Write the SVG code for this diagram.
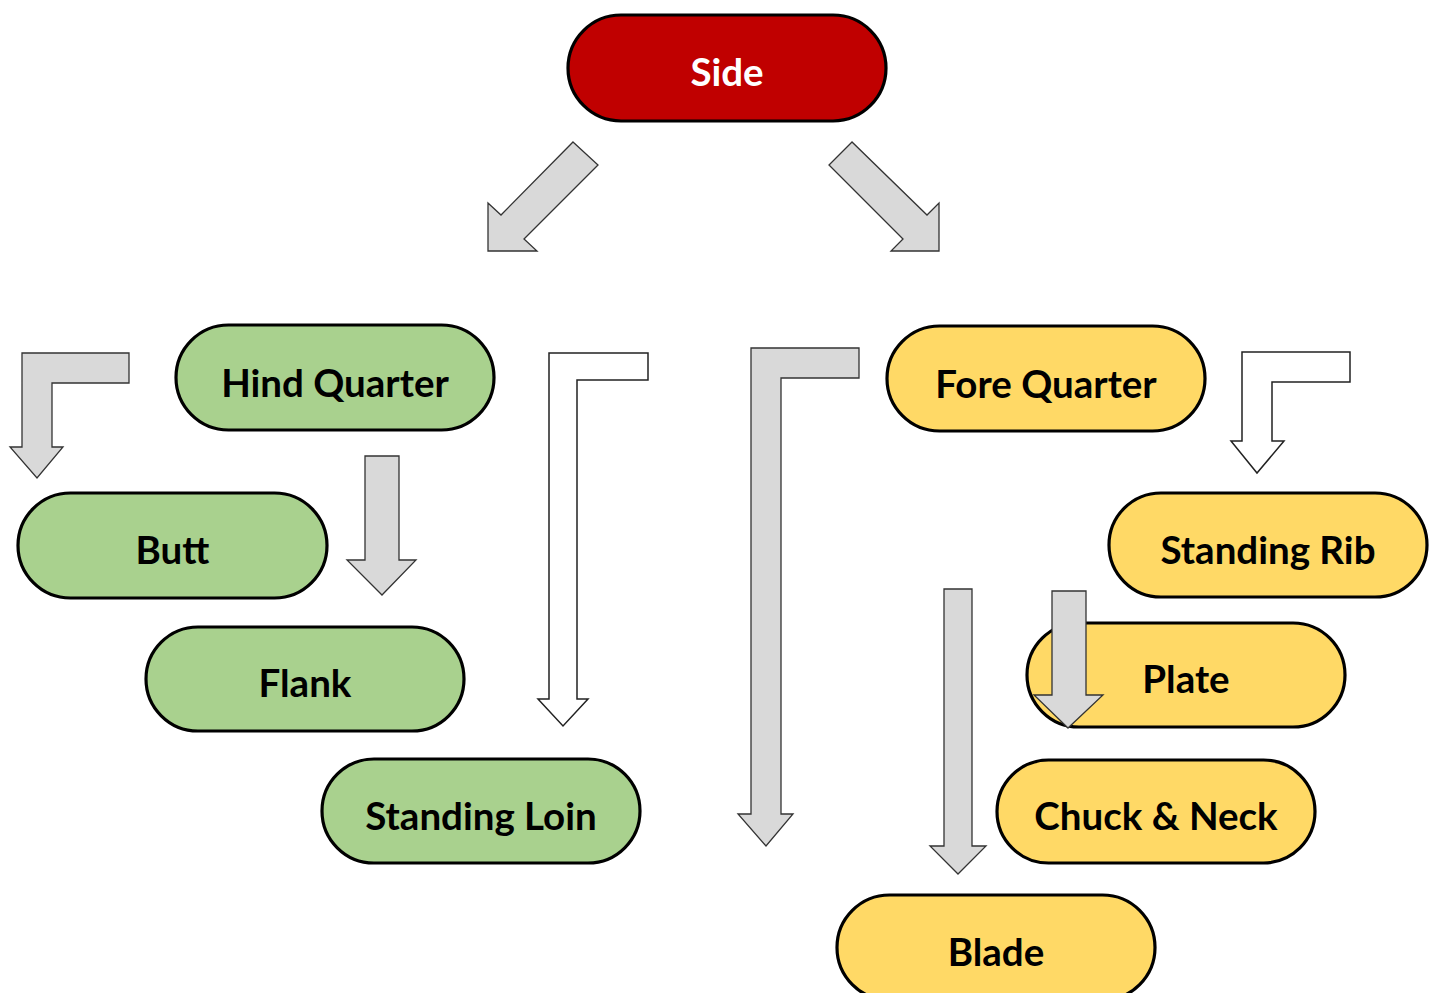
<svg xmlns="http://www.w3.org/2000/svg" width="1437" height="993" viewBox="0 0 1437 993">
<style>
.n rect{stroke:#000;stroke-width:3.2}
.red rect{fill:#C00000}
.grn rect{fill:#A9D18E}
.yel rect{fill:#FFD966}
.n text{font-family:Lato,"Open Sans",sans-serif;font-weight:700;font-size:38.5px;text-anchor:middle;fill:#000}
.red text{fill:#fff}
.a{fill:#D9D9D9;stroke:#333;stroke-width:1.3;stroke-linejoin:miter}
.w{fill:#fff;stroke:#222;stroke-width:1.5}
</style>
<rect width="1437" height="993" fill="#fff"/>
<g id="side" class="n red"><rect x="568" y="15" width="318" height="106" rx="53"/><text x="727" y="86">Side</text></g>
<g id="hind-quarter" class="n grn"><rect x="176" y="325" width="318" height="105" rx="52.5"/><text x="335" y="397">Hind Quarter</text></g>
<g id="fore-quarter" class="n yel"><rect x="887" y="326" width="318" height="105" rx="52.5"/><text x="1046" y="398">Fore Quarter</text></g>
<g id="butt" class="n grn"><rect x="18" y="493" width="309" height="105" rx="52.5"/><text x="172.5" y="564">Butt</text></g>
<g id="flank" class="n grn"><rect x="146" y="627" width="318" height="104" rx="52"/><text x="305" y="697">Flank</text></g>
<g id="standing-loin" class="n grn"><rect x="322" y="759" width="318" height="104" rx="52"/><text x="481" y="830">Standing Loin</text></g>
<g id="standing-rib" class="n yel"><rect x="1109" y="493" width="318" height="104" rx="52"/><text x="1268" y="564">Standing Rib</text></g>
<g id="plate" class="n yel"><rect x="1027" y="623" width="318" height="104" rx="52"/><text x="1186" y="693">Plate</text></g>
<g id="chuck-neck" class="n yel"><rect x="997" y="760" width="318" height="103" rx="51.5"/><text x="1156" y="830">Chuck &amp; Neck</text></g>
<g id="blade" class="n yel"><rect x="837" y="895" width="318" height="105" rx="52.5"/><text x="996" y="966">Blade</text></g>
<g id="connectors">
<polygon class="a" points="573,142 598,165 524,239 537,251 488,251 488,203 501,215"/>
<polygon class="a" points="852,142 829,165 903,239 891,251 939,251 939,203 927,215"/>
<polygon class="a" points="22,353 129,353 129,383 52,383 52,447 63,447 37,478 10,447 22,447"/>
<polygon class="a" points="365,456 399,456 399,560 416,560 382,595 347,560 365,560"/>
<polygon class="w" points="549,353 648,353 648,380 577,380 577,699 588,699 563,726 538,699 549,699"/>
<polygon class="a" points="751,348 859,348 859,378 781,378 781,814 793,814 766,846 738,814 751,814"/>
<polygon class="w" points="1242,352 1350,352 1350,382 1272,382 1272,441 1284,441 1257,473 1231,441 1242,441"/>
<polygon class="a" points="944,589 972,589 972,846 986,846 958,874 930,846 944,846"/>
<polygon class="a" points="1052,591 1086,591 1086,695 1103,695 1068,728 1034,695 1052,695"/>
</g>
</svg>
